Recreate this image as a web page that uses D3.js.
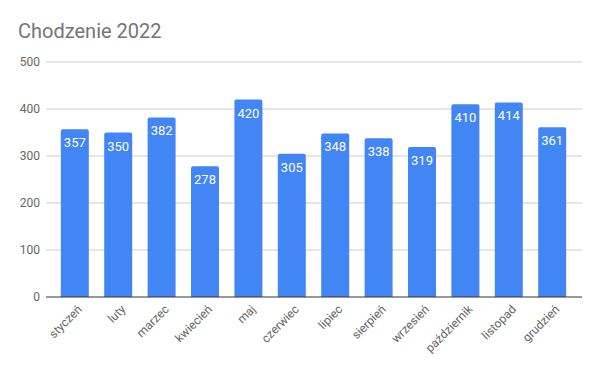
<!DOCTYPE html>
<html>
<head>
<meta charset="utf-8">
<script src="https://cdn.jsdelivr.net/npm/d3@7"></script>
<style>
  body { margin: 0; background: #fff; }
  text { font-family: Roboto, sans-serif; }
</style>
</head>
<body>
<div class="chart"></div>
<script>
let months = ['styczeń', 'luty', 'marzec', 'kwiecień', 'maj', 'czerwiec', 'lipiec',
  'sierpień', 'wrzesień', 'październik', 'listopad', 'grudzień'];
let values = [357, 350, 382, 278, 420, 305, 348, 338, 319, 410, 414, 361];
let yTicks = [0, 100, 200, 300, 400, 500];

let fullWidth = 600;
let fullHeight = 371;
let margin = {top: 62, right: 18, bottom: 74, left: 46};
let width = fullWidth - margin.left - margin.right;
let height = fullHeight - margin.top - margin.bottom;

let svg = d3.select('.chart')
  .append('svg')
    .attr('width', fullWidth)
    .attr('height', fullHeight);

svg.append('text')
  .attr('x', 18)
  .attr('y', 38)
  .style('font-size', '20px')
  .style('fill', '#757575')
  .text('Chodzenie 2022');

let g = svg.append('g')
  .attr('transform', `translate(${margin.left}, ${margin.top})`);

let yScale = d3.scaleLinear()
  .domain([0, 500])
  .range([height, 0]);

let xScale = d3.scaleBand()
  .domain(months)
  .range([7, width - 8])
  .paddingInner(0.355)
  .paddingOuter(0.18);

// gridlines
g.append('g')
  .selectAll('line')
  .data(yTicks.filter(d => d > 0))
  .join('line')
    .attr('x1', 0)
    .attr('x2', width)
    .attr('y1', d => yScale(d))
    .attr('y2', d => yScale(d))
    .style('stroke', '#cccccc');

g.append('g')
  .selectAll('text')
  .data(yTicks)
  .join('text')
    .attr('x', -6)
    .attr('y', d => yScale(d))
    .attr('dy', '0.35em')
    .attr('text-anchor', 'end')
    .style('font-size', '12px')
    .style('fill', '#666')
    .text(d => d);

// bars with rounded tops
let r = 2;
g.append('g')
  .selectAll('path')
  .data(values)
  .join('path')
    .attr('d', (d, i) => {
      let x0 = xScale(months[i]);
      let x1 = x0 + xScale.bandwidth();
      let y0 = yScale(d);
      let yb = yScale(0);
      return `M${x0},${yb}V${y0 + r}Q${x0},${y0} ${x0 + r},${y0}H${x1 - r}Q${x1},${y0} ${x1},${y0 + r}V${yb}Z`;
    })
    .style('fill', '#4285f4');

g.append('g')
  .selectAll('text')
  .data(values)
  .join('text')
    .attr('x', (d, i) => xScale(months[i]) + xScale.bandwidth() / 2)
    .attr('y', d => yScale(d) + 18)
    .attr('text-anchor', 'middle')
    .style('font-size', '13px')
    .style('fill', '#fff')
    .text(d => d);

// baseline
g.append('line')
  .attr('x1', 0)
  .attr('x2', width)
  .attr('y1', yScale(0))
  .attr('y2', yScale(0))
  .style('stroke', '#333')
  .style('stroke-width', 1);

let xAxis = d3.axisBottom(xScale).tickSize(0).tickPadding(0);
let xg = g.append('g')
  .attr('transform', `translate(0, ${height})`)
  .call(xAxis);
xg.select('.domain').remove();
xg.selectAll('text')
  .attr('y', 0)
  .attr('dy', 0)
  .attr('text-anchor', 'end')
  .attr('transform', 'translate(8, 13) rotate(-45)')
  .style('font-size', '12px')
  .style('font-family', 'Roboto, sans-serif')
  .style('fill', '#666');
</script>
</body>
</html>
